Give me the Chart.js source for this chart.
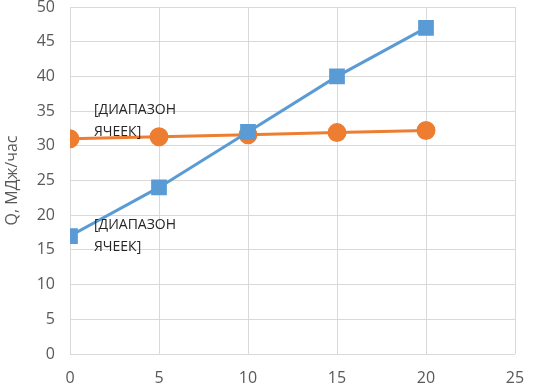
<!DOCTYPE html>
<html>
<head>
<meta charset="utf-8">
<script src="https://cdn.jsdelivr.net/npm/chart.js@4"></script>
<style>
  html, body { margin: 0; padding: 0; background: #fff; }
  #wrap { width: 547px; height: 391px; }
</style>
</head>
<body>
<div id="wrap"><canvas id="chart"></canvas></div>
<script>
const xValues = [0, 5, 10, 15, 20];
const blueValues = [17, 24, 32, 40, 47];
const orangeValues = [31, 31.3, 31.6, 31.9, 32.2];
const yTitle = 'Q, МДж/час';
const labelText = ['[ДИАПАЗОН', 'ЯЧЕЕК]'];

const toPoints = (ys) => xValues.map((x, i) => ({ x: x, y: ys[i] }));

// подписи данных у первой точки каждой серии
const cellLabels = {
  id: 'cellLabels',
  afterDatasetsDraw(chart) {
    const ctx = chart.ctx;
    ctx.save();
    ctx.font = '14px "Open Sans"';
    ctx.fillStyle = '#262626';
    ctx.textAlign = 'left';
    ctx.textBaseline = 'middle';
    chart.data.datasets.forEach((ds, di) => {
      const pt = chart.getDatasetMeta(di).data[0];
      const off = ds.labelOffset;
      labelText.forEach((line, li) => {
        ctx.fillText(line, pt.x + off.dx, pt.y + off.dy + li * 22);
      });
    });
    ctx.restore();
  }
};

new Chart(document.getElementById('chart'), {
  type: 'line',
  data: {
    datasets: [
      {
        data: toPoints(blueValues),
        borderColor: '#5B9BD5',
        backgroundColor: '#5B9BD5',
        borderWidth: 3,
        pointStyle: 'rect',
        pointRadius: 9,
        labelOffset: { dx: 24, dy: -11 }
      },
      {
        data: toPoints(orangeValues),
        borderColor: '#ED7D31',
        backgroundColor: '#ED7D31',
        borderWidth: 3,
        pointStyle: 'circle',
        pointRadius: 8,
        labelOffset: { dx: 24, dy: -29 }
      }
    ]
  },
  options: {
    responsive: true,
    maintainAspectRatio: false,
    animation: false,
    layout: { autoPadding: false, padding: { top: 7, right: 32, left: 0, bottom: 0 } },
    plugins: {
      legend: { display: false },
      tooltip: { enabled: false }
    },
    scales: {
      x: {
        type: 'linear',
        min: 0,
        max: 25,
        ticks: { stepSize: 5, color: '#595959', font: { family: 'Open Sans', size: 16 }, padding: 15 },
        grid: { color: '#D9D9D9', lineWidth: 1, drawTicks: false },
        border: { display: false },
        afterFit(scale) {
          scale.height = 37;
          scale.paddingLeft = 0;
          scale.paddingRight = 0;
        }
      },
      y: {
        min: 0,
        max: 50,
        ticks: { stepSize: 5, color: '#595959', font: { family: 'Open Sans', size: 16 }, padding: 15 },
        grid: { color: '#D9D9D9', lineWidth: 1, drawTicks: false },
        border: { display: false },
        title: {
          display: true,
          text: yTitle,
          color: '#595959',
          font: { family: 'Open Sans', size: 16 },
          padding: { top: 3, bottom: 0 }
        },
        afterFit(scale) {
          scale.width = 70;
          scale.paddingTop = 0;
          scale.paddingBottom = 0;
        }
      }
    }
  },
  plugins: [cellLabels]
});
</script>
</body>
</html>
